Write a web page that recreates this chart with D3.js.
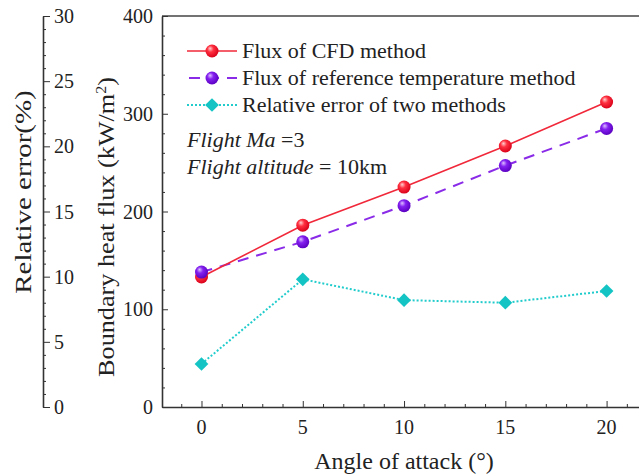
<!DOCTYPE html>
<html>

<head>
  <meta charset="utf-8">
  <style>
    body {
      margin: 0;
      background: #fff;
    }

    svg text {
      font-family: "Liberation Serif", "Times New Roman", serif;
      fill: #222;
    }

    .axis path,
    .axis line {
      stroke: #333;
    }
  </style>
</head>

<body>
  <svg id="chart" width="639" height="476"></svg>

  <script src="https://cdn.jsdelivr.net/npm/d3@7/dist/d3.min.js"></script>
  <script>
    // data
    var angles = [0, 5, 10, 15, 20];
    var fluxCFD = [133, 186, 225, 267, 312];
    var fluxRef = [138, 169, 206, 247, 285];
    var relError = [3.3, 9.8, 8.2, 8.0, 8.9];
    var xTicks = [0, 5, 10, 15, 20];
    var fluxTicks = [0, 100, 200, 300, 400];
    var errTicks = [0, 5, 10, 15, 20, 25, 30];
    var legendLabels = ['Flux of CFD method', 'Flux of reference temperature method', 'Relative error of two methods'];

    // plot edges (window.top is reserved, so p* names)
    var pLeft = 162, pTop = 16, pBottom = 407, pRight = 639;

    var svg = d3.select('#chart');

    var x = d3.scaleLinear().domain([-1.95, 21.6]).range([pLeft, pRight]);
    var yFlux = d3.scaleLinear().domain([0, 400]).range([pBottom, pTop]);
    var yErr = d3.scaleLinear().domain([0, 30]).range([pBottom, pTop]);

    // gradients for the ball markers
    var defs = svg.append('defs');
    function ball(id, light, base, dark) {
      var g = defs.append('radialGradient').attr('id', id)
        .attr('cx', '42%').attr('cy', '40%').attr('r', '62%').attr('fx', '35%').attr('fy', '30%');
      g.append('stop').attr('offset', '0%').attr('stop-color', light);
      g.append('stop').attr('offset', '40%').attr('stop-color', base);
      g.append('stop').attr('offset', '100%').attr('stop-color', dark);
    }
    ball('gRed', '#ffd0d0', '#ff3040', '#d80018');
    ball('gPurple', '#dcc0ff', '#8420f0', '#5a00c0');

    // frame top line
    svg.append('line').attr('x1', pLeft).attr('x2', pRight).attr('y1', pTop).attr('y2', pTop)
      .attr('stroke', '#444').attr('stroke-width', 1.6);

    // x axis, ticks inward
    var gx = svg.append('g').attr('class', 'axis').attr('transform', 'translate(0,' + pBottom + ')');
    gx.call(d3.axisBottom(x).tickValues(d3.range(-1, 22, 1)).tickSize(-3).tickFormat('').tickSizeOuter(0));
    gx.selectAll('.tick line').filter(function (d) { return d % 5 === 0; }).attr('y2', -6);
    gx.select('.domain').attr('stroke-width', 1.6);
    svg.append('g').selectAll('text').data(xTicks).join('text')
      .attr('x', function (d) { return x(d); }).attr('y', pBottom + 27)
      .attr('text-anchor', 'middle').attr('font-size', 20).text(function (d) { return d; });

    // main y axis, ticks inward
    var gy = svg.append('g').attr('class', 'axis').attr('transform', 'translate(' + pLeft + ',0)');
    gy.call(d3.axisLeft(yFlux).tickValues(d3.range(0, 401, 20)).tickSize(-3).tickFormat('').tickSizeOuter(0));
    gy.selectAll('.tick line').filter(function (d) { return d % 100 === 0; }).attr('x2', 6);
    gy.select('.domain').attr('stroke-width', 1.6);
    svg.append('g').selectAll('text').data(fluxTicks).join('text')
      .attr('x', pLeft - 9).attr('y', function (d) { return yFlux(d) + 7; })
      .attr('text-anchor', 'end').attr('font-size', 20).text(function (d) { return d; });

    // relative error axis on the far left, ticks to the right
    var ex = 43;
    var ge = svg.append('g').attr('class', 'axis').attr('transform', 'translate(' + ex + ',0)');
    ge.call(d3.axisRight(yErr).tickValues(d3.range(0, 31, 1)).tickSize(3).tickFormat('').tickSizeOuter(0));
    ge.selectAll('.tick line').filter(function (d) { return d % 5 === 0; }).attr('x2', 7);
    ge.select('.domain').attr('stroke-width', 1.6);
    svg.append('g').selectAll('text').data(errTicks).join('text')
      .attr('x', ex + 11).attr('y', function (d) { return yErr(d) + 7; })
      .attr('text-anchor', 'start').attr('font-size', 20).text(function (d) { return d; });

    // axis titles (the vertical ones are drawn a bit stretched, like the source)
    svg.append('text').attr('x', 404).attr('y', 469)
      .attr('text-anchor', 'middle').attr('font-size', 24).text('Angle of attack (°)');
    svg.append('text').attr('transform', 'translate(31,192) rotate(-90) scale(1.26,1)')
      .attr('text-anchor', 'middle').attr('font-size', 23).text('Relative error(%)');
    var yt = svg.append('text').attr('transform', 'translate(114,227) rotate(-90) scale(1.14,1)')
      .attr('text-anchor', 'middle').attr('font-size', 23);
    yt.append('tspan').text('Boundary heat flux (kW/m');
    yt.append('tspan').attr('dy', -8).attr('font-size', 14).text('2');
    yt.append('tspan').attr('dy', 8).text(')');

    // series
    var line = function (ys, yScale) {
      return d3.line().x(function (d, i) { return x(angles[i]); }).y(function (d) { return yScale(d); })(ys);
    };
    svg.append('path').attr('d', line(relError, yErr)).attr('fill', 'none')
      .attr('stroke', '#22cccc').attr('stroke-width', 2).attr('stroke-dasharray', '2,2');
    svg.append('path').attr('d', line(fluxRef, yFlux)).attr('fill', 'none')
      .attr('stroke', '#8a2be8').attr('stroke-width', 2).attr('stroke-dasharray', '11,8');
    svg.append('path').attr('d', line(fluxCFD, yFlux)).attr('fill', 'none')
      .attr('stroke', '#f0283a').attr('stroke-width', 1.6);

    var diamond = d3.symbol().type(d3.symbolDiamond2).size(120);
    svg.append('g').selectAll('path').data(relError).join('path')
      .attr('transform', function (d, i) { return 'translate(' + x(angles[i]) + ',' + yErr(d) + ')'; })
      .attr('d', diamond).attr('fill', '#14c4c4');
    svg.append('g').selectAll('circle').data(fluxCFD).join('circle')
      .attr('cx', function (d, i) { return x(angles[i]); }).attr('cy', function (d) { return yFlux(d); })
      .attr('r', 6.5).attr('fill', 'url(#gRed)');
    svg.append('g').selectAll('circle').data(fluxRef).join('circle')
      .attr('cx', function (d, i) { return x(angles[i]); }).attr('cy', function (d) { return yFlux(d); })
      .attr('r', 6.5).attr('fill', 'url(#gPurple)');

    // legend
    var legendRows = [
      { label: legendLabels[0], color: '#f0283a', dash: null, marker: 'gRed' },
      { label: legendLabels[1], color: '#8a2be8', dash: '11,8', marker: 'gPurple' },
      { label: legendLabels[2], color: '#22cccc', dash: '2,2', marker: null }
    ];
    var lg = svg.append('g').selectAll('g').data(legendRows).join('g')
      .attr('transform', function (d, i) { return 'translate(187,' + [51, 78, 105][i] + ')'; });
    lg.append('line').attr('x1', 0).attr('x2', 50).attr('y1', 0).attr('y2', 0)
      .attr('stroke', function (d) { return d.color; })
      .attr('stroke-width', function (d) { return d.marker === 'gRed' ? 1.6 : 2; })
      .attr('stroke-dasharray', function (d) { return d.dash; })
      .attr('stroke-dashoffset', function (d) { return d.dash === '11,8' ? -2 : 0; });
    lg.filter(function (d) { return d.marker; }).append('circle')
      .attr('cx', 25).attr('cy', 0).attr('r', 6.5).attr('fill', function (d) { return 'url(#' + d.marker + ')'; });
    lg.filter(function (d) { return !d.marker; }).append('path')
      .attr('transform', 'translate(25,0)').attr('d', diamond).attr('fill', '#14c4c4');
    lg.append('text').attr('x', 55).attr('y', 7).attr('font-size', 22).text(function (d) { return d.label; });

    // flight condition notes
    var n1 = svg.append('text').attr('x', 187).attr('y', 147).attr('font-size', 22);
    n1.append('tspan').attr('font-style', 'italic').text('Flight Ma');
    n1.append('tspan').text(' =3');
    var n2 = svg.append('text').attr('x', 187).attr('y', 174).attr('font-size', 22);
    n2.append('tspan').attr('font-style', 'italic').text('Flight altitude');
    n2.append('tspan').text(' = 10km');
  </script>
</body>

</html>
